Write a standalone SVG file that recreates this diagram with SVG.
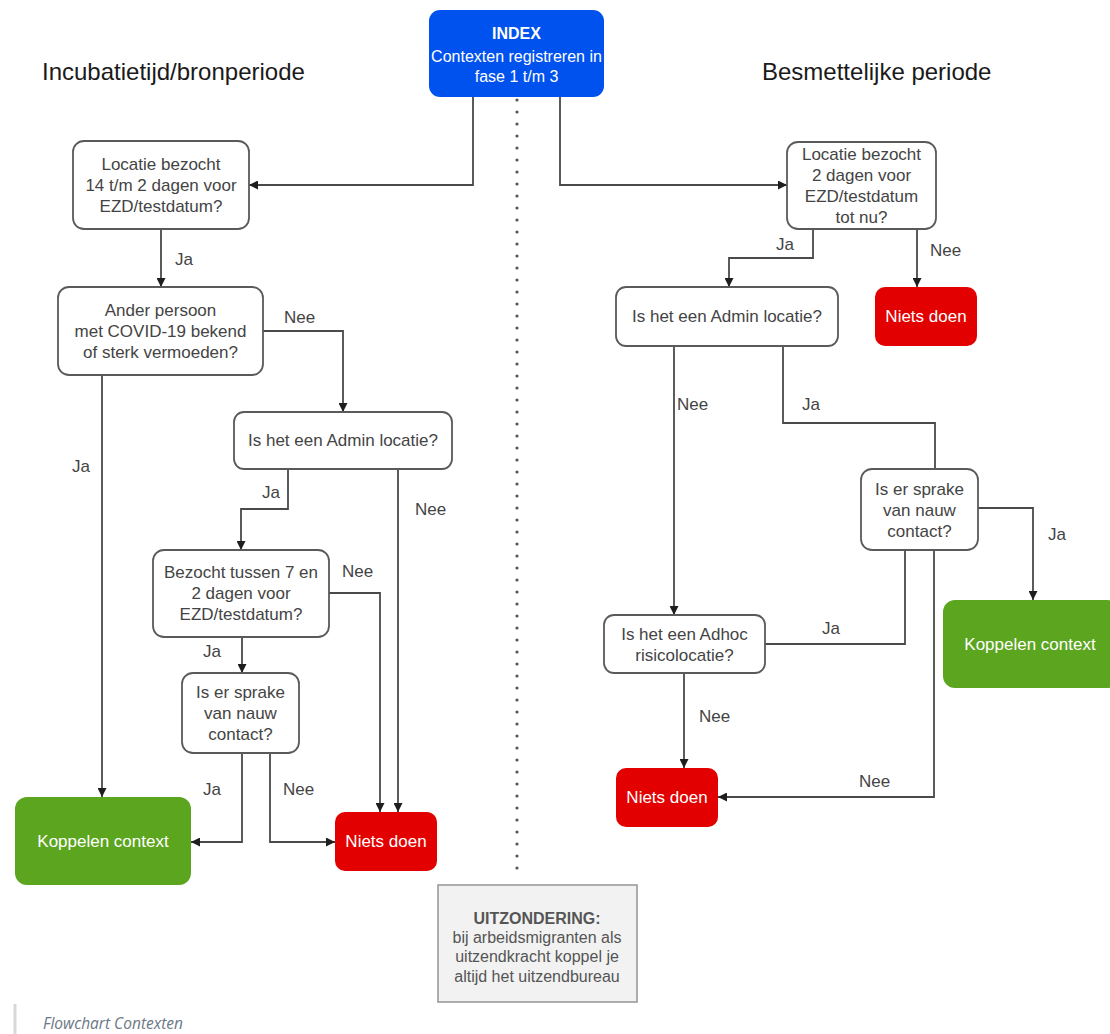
<svg xmlns="http://www.w3.org/2000/svg" width="1110" height="1034" viewBox="0 0 1110 1034">
<defs>
<marker id="arr" viewBox="0 0 10 10" refX="10" refY="5" markerWidth="9" markerHeight="9" markerUnits="userSpaceOnUse" orient="auto">
<path d="M0,0 L10,5 L0,10 z" fill="#1e1e1e"/>
</marker>
<style>
text{font-family:"Liberation Sans",Arial,sans-serif;}
.q{fill:#fff;stroke:#5a5a5a;stroke-width:1.8;}
.qt{font-size:17px;fill:#444;text-anchor:middle;}
.red{fill:#e30000;}
.grn{fill:#5ba51f;}
.wt{font-size:17px;fill:#fff;text-anchor:middle;}
.lbl{font-size:17px;fill:#444;}
.title{font-size:24px;fill:#1a1a1a;}
.c{fill:none;stroke:#4a4a4a;stroke-width:1.8;}
.ca{fill:none;stroke:#4a4a4a;stroke-width:1.8;marker-end:url(#arr);}
</style>
</defs>
<rect width="1110" height="1034" fill="#fff"/>

<text class="title" x="42" y="80">Incubatietijd/bronperiode</text>
<text class="title" x="762" y="80">Besmettelijke periode</text>

<line x1="517" y1="100" x2="517" y2="870" stroke="#555" stroke-width="3.2" stroke-linecap="round" stroke-dasharray="0 12"/>

<g id="connectors">
<path class="ca" d="M473,97 V185 H249"/>
<path class="ca" d="M560,97 V185 H787"/>
<path class="ca" d="M161,229 V287"/>
<path class="ca" d="M263,331 H343 V412"/>
<path class="ca" d="M102,375 V797"/>
<path class="ca" d="M288,469 V509 H241 V550"/>
<path class="ca" d="M398,469 V812"/>
<path class="ca" d="M329,593 H380 V812"/>
<path class="ca" d="M242,637 V673"/>
<path class="ca" d="M242,753 V842 H191"/>
<path class="ca" d="M270,753 V842 H335"/>
<path class="ca" d="M813,229 V258 H729 V287"/>
<path class="ca" d="M917,229 V287"/>
<path class="ca" d="M674,346 V615"/>
<path class="c" d="M783,346 V423 H935 V469"/>
<path class="ca" d="M978,508 H1033 V600"/>
<path class="c" d="M765,644 H905 V550"/>
<path class="ca" d="M934,550 V797 H718"/>
<path class="ca" d="M684,673 V768"/>
<text class="lbl" x="175" y="265">Ja</text>
<text class="lbl" x="284" y="323">Nee</text>
<text class="lbl" x="72" y="472">Ja</text>
<text class="lbl" x="262" y="498">Ja</text>
<text class="lbl" x="415" y="515">Nee</text>
<text class="lbl" x="342" y="577">Nee</text>
<text class="lbl" x="203" y="657">Ja</text>
<text class="lbl" x="203" y="795">Ja</text>
<text class="lbl" x="283" y="795">Nee</text>
<text class="lbl" x="776" y="250">Ja</text>
<text class="lbl" x="930" y="256">Nee</text>
<text class="lbl" x="677" y="410">Nee</text>
<text class="lbl" x="802" y="410">Ja</text>
<text class="lbl" x="1048" y="540">Ja</text>
<text class="lbl" x="822" y="634">Ja</text>
<text class="lbl" x="699" y="722">Nee</text>
<text class="lbl" x="859" y="787">Nee</text>
</g>

<g id="index">
<rect x="429" y="10" width="175" height="87" rx="11" fill="#0052ee"/>
<text class="wt" x="516.5" y="39" font-weight="bold" style="font-size:16px">INDEX</text>
<text class="wt" x="516.5" y="62" style="font-size:16px">Contexten registreren in</text>
<text class="wt" x="516.5" y="82" style="font-size:16px">fase 1 t/m 3</text>
</g>

<g id="l-locatie">
<rect class="q" x="73" y="141" width="176" height="88" rx="11"/>
<text class="qt" x="161" y="170">Locatie bezocht</text>
<text class="qt" x="161" y="191">14 t/m 2 dagen voor</text>
<text class="qt" x="161" y="212">EZD/testdatum?</text>
</g>

<g id="l-ander">
<rect class="q" x="58" y="287" width="205" height="88" rx="11"/>
<text class="qt" x="160.5" y="316">Ander persoon</text>
<text class="qt" x="160.5" y="337">met COVID-19 bekend</text>
<text class="qt" x="160.5" y="358">of sterk vermoeden?</text>
</g>

<g id="l-admin">
<rect class="q" x="234" y="412" width="218" height="57" rx="10"/>
<text class="qt" x="343" y="446">Is het een Admin locatie?</text>
</g>

<g id="l-bezocht">
<rect class="q" x="153" y="550" width="176" height="87" rx="11"/>
<text class="qt" x="241" y="578">Bezocht tussen 7 en</text>
<text class="qt" x="241" y="599">2 dagen voor</text>
<text class="qt" x="241" y="620">EZD/testdatum?</text>
</g>

<g id="l-nauw">
<rect class="q" x="182" y="673" width="117" height="80" rx="11"/>
<text class="qt" x="240.5" y="698">Is er sprake</text>
<text class="qt" x="240.5" y="719">van nauw</text>
<text class="qt" x="240.5" y="740">contact?</text>
</g>

<g id="l-koppelen">
<rect class="grn" x="15" y="797" width="176" height="88" rx="12"/>
<text class="wt" x="103" y="847">Koppelen context</text>
</g>

<g id="l-niets">
<rect class="red" x="335" y="812" width="102" height="59" rx="10"/>
<text class="wt" x="386" y="847">Niets doen</text>
</g>

<g id="r-locatie">
<rect class="q" x="787" y="142" width="149" height="87" rx="11"/>
<text class="qt" x="861.5" y="160">Locatie bezocht</text>
<text class="qt" x="861.5" y="181">2 dagen voor</text>
<text class="qt" x="861.5" y="202">EZD/testdatum</text>
<text class="qt" x="861.5" y="223">tot nu?</text>
</g>

<g id="r-niets1">
<rect class="red" x="875" y="287" width="102" height="59" rx="10"/>
<text class="wt" x="926" y="322">Niets doen</text>
</g>

<g id="r-admin">
<rect class="q" x="616" y="287" width="222" height="59" rx="10"/>
<text class="qt" x="727" y="322">Is het een Admin locatie?</text>
</g>

<g id="r-nauw">
<rect class="q" x="861" y="469" width="117" height="81" rx="11"/>
<text class="qt" x="919.5" y="495">Is er sprake</text>
<text class="qt" x="919.5" y="516">van nauw</text>
<text class="qt" x="919.5" y="537">contact?</text>
</g>

<g id="r-koppelen">
<rect class="grn" x="943" y="600" width="176" height="88" rx="12"/>
<text class="wt" x="1030" y="650">Koppelen context</text>
</g>

<g id="r-adhoc">
<rect class="q" x="604" y="615" width="161" height="58" rx="10"/>
<text class="qt" x="684.5" y="640">Is het een Adhoc</text>
<text class="qt" x="684.5" y="661">risicolocatie?</text>
</g>

<g id="r-niets2">
<rect class="red" x="616" y="768" width="102" height="59" rx="10"/>
<text class="wt" x="667" y="803">Niets doen</text>
</g>

<g id="uitzondering">
<rect x="438" y="885" width="199" height="117" fill="#f2f2f2" stroke="#9a9a9a" stroke-width="1.6"/>
<text x="537" y="924" text-anchor="middle" font-size="16" font-weight="bold" fill="#555">UITZONDERING:</text>
<text x="537" y="943" text-anchor="middle" font-size="16" fill="#555">bij arbeidsmigranten als</text>
<text x="537" y="962" text-anchor="middle" font-size="16" fill="#555">uitzendkracht koppel je</text>
<text x="537" y="982" text-anchor="middle" font-size="16" fill="#555">altijd het uitzendbureau</text>
</g>

<line x1="15" y1="1004" x2="15" y2="1034" stroke="#d8d8d8" stroke-width="3"/>
<text x="43" y="1029" font-size="15.5" font-style="italic" fill="#6b7785" style="font-family:'Open Sans','Liberation Sans',sans-serif">Flowchart Contexten</text>
</svg>
